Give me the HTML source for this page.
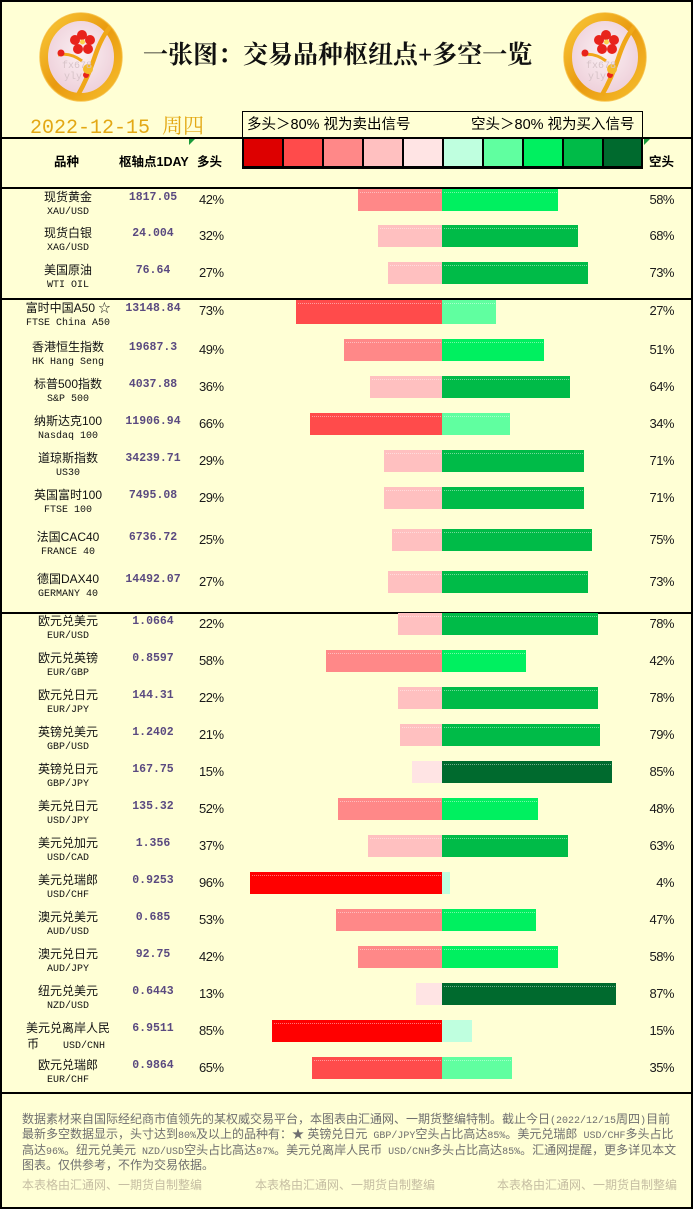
<!DOCTYPE html>
<html><head><meta charset="utf-8">
<style>
*{margin:0;padding:0;box-sizing:border-box}
html,body{width:693px;height:1209px;overflow:hidden}
body{background:#FFFFD5;position:relative;font-family:"Liberation Sans","Noto Sans CJK SC",sans-serif;color:#000}
.a{position:absolute}
.frame{left:0;top:0;width:693px;height:1209px;border:2px solid #000}
.hl{position:absolute;left:0;width:693px;height:2px;background:#000}
.title{left:143px;top:39px;font-family:"Liberation Serif","Noto Serif CJK SC",serif;font-weight:700;font-size:25px;line-height:34px;white-space:nowrap;color:#111}
.date{left:30px;top:112px;color:#E3A814;white-space:nowrap;line-height:26px}
.date .d{font-family:"Liberation Mono",monospace;font-size:20px;white-space:pre}
.date .w{font-family:"Noto Serif CJK SC",serif;font-size:21px}
.lgbox{left:242px;top:111px;width:401px;height:27px;border:1px solid #000;border-bottom:none}
.lgt{position:absolute;top:4px;font-size:14.5px;line-height:18px;white-space:nowrap;font-family:"Liberation Sans","Noto Sans CJK SC",sans-serif}
.cells{left:242px;top:138px;width:401px;height:31px;background:#000}
.cell{position:absolute;top:1px;width:38px;height:27px}
.hd{font-weight:700;font-size:12.5px;line-height:16px;white-space:nowrap;top:154px;font-family:"Liberation Sans","Noto Sans CJK SC",sans-serif}
.tri{width:0;height:0;border-top:6px solid #1a9a3a;border-right:6px solid transparent}
.r{position:absolute;left:0;width:693px;height:24px}
.n{position:absolute;left:0;width:136px;top:1px;text-align:center;font-size:12px;line-height:15px;white-space:nowrap;font-family:"Liberation Sans","Noto Sans CJK SC",sans-serif;color:#111}
.s{position:absolute;left:0;width:136px;top:17px;text-align:center;font-family:"Liberation Mono",monospace;font-size:10px;line-height:13px;white-space:pre;color:#111}
.p{position:absolute;left:105px;width:96px;top:2px;text-align:center;font-family:"Liberation Mono",monospace;font-weight:700;font-size:11.5px;line-height:13px;color:#5a4a80;white-space:nowrap}
.l{position:absolute;left:199px;top:3px;font-size:13px;line-height:16px;letter-spacing:-0.5px;color:#1a1a1a}
.rt{position:absolute;left:620px;width:54px;top:3px;text-align:right;font-size:13px;line-height:16px;letter-spacing:-0.5px;color:#1a1a1a}
.b{position:absolute;top:0;height:22px}
.b i{position:absolute;left:2px;right:1px;top:3px;height:0;border-top:1px dotted rgba(255,255,255,0.45)}
.ft{left:22px;top:1112px;font-size:12px;color:#6f6f6f;white-space:nowrap;font-family:"Liberation Sans","Noto Sans CJK SC",sans-serif}
.ft div{height:15.4px;line-height:15.4px;overflow:visible}
.m{font-family:"Liberation Mono",monospace;font-size:10px;line-height:10px}
.wm{top:1177px;font-size:12px;line-height:16px;color:#C6BEA2;white-space:nowrap;font-family:"Liberation Sans","Noto Sans CJK SC",sans-serif}
</style></head><body>

<!-- logos -->
<svg class="a" style="left:38px;top:11px" width="88" height="92" viewBox="0 0 88 92">
<defs>
<radialGradient id="gi1" cx="50%" cy="45%" r="60%"><stop offset="0" stop-color="#fbf0f3"/><stop offset="1" stop-color="#eccbd6"/></radialGradient>
<linearGradient id="gg1" x1="0" y1="0" x2="1" y2="1"><stop offset="0" stop-color="#f9c838"/><stop offset="0.5" stop-color="#e99a10"/><stop offset="1" stop-color="#f6bd2c"/></linearGradient>
</defs>
<ellipse cx="43" cy="46" rx="37" ry="40" fill="url(#gi1)" stroke="url(#gg1)" stroke-width="8"/>
<ellipse cx="43" cy="46" rx="41" ry="44" fill="none" stroke="#f3b228" stroke-width="1.5" opacity="0.7"/>
<path d="M40 84 C48 70 52 60 56 48 S64 26 72 16" stroke="#f0a818" stroke-width="4.5" fill="none"/>
<path d="M44 50 C36 44 28 42 20 44" stroke="#f0a818" stroke-width="3" fill="none"/>
<g fill="#e8231c">
<circle cx="44" cy="24" r="5"/><circle cx="52" cy="29" r="5"/><circle cx="50" cy="38" r="5"/><circle cx="40" cy="38" r="5"/><circle cx="37" cy="29" r="5"/>
<circle cx="23" cy="42" r="3.5"/><circle cx="48" cy="64" r="3"/>
</g>
<circle cx="44.5" cy="31" r="2.5" fill="#fbd24a"/>
<circle cx="50" cy="58" r="5" fill="#f4bb2a"/>
<text x="24" y="57" font-family="Liberation Mono,monospace" font-size="10" fill="#d7c3c8">fx678</text>
<text x="26" y="68" font-family="Liberation Mono,monospace" font-size="10" fill="#d7c3c8">yly</text>
</svg>
<svg class="a" style="left:562px;top:11px" width="88" height="92" viewBox="0 0 88 92">
<defs>
<radialGradient id="gi2" cx="50%" cy="45%" r="60%"><stop offset="0" stop-color="#fbf0f3"/><stop offset="1" stop-color="#eccbd6"/></radialGradient>
<linearGradient id="gg2" x1="0" y1="0" x2="1" y2="1"><stop offset="0" stop-color="#f9c838"/><stop offset="0.5" stop-color="#e99a10"/><stop offset="1" stop-color="#f6bd2c"/></linearGradient>
</defs>
<ellipse cx="43" cy="46" rx="37" ry="40" fill="url(#gi2)" stroke="url(#gg2)" stroke-width="8"/>
<ellipse cx="43" cy="46" rx="41" ry="44" fill="none" stroke="#f3b228" stroke-width="1.5" opacity="0.7"/>
<path d="M40 84 C48 70 52 60 56 48 S64 26 72 16" stroke="#f0a818" stroke-width="4.5" fill="none"/>
<path d="M44 50 C36 44 28 42 20 44" stroke="#f0a818" stroke-width="3" fill="none"/>
<g fill="#e8231c">
<circle cx="44" cy="24" r="5"/><circle cx="52" cy="29" r="5"/><circle cx="50" cy="38" r="5"/><circle cx="40" cy="38" r="5"/><circle cx="37" cy="29" r="5"/>
<circle cx="23" cy="42" r="3.5"/><circle cx="48" cy="64" r="3"/>
</g>
<circle cx="44.5" cy="31" r="2.5" fill="#fbd24a"/>
<circle cx="50" cy="58" r="5" fill="#f4bb2a"/>
<text x="24" y="57" font-family="Liberation Mono,monospace" font-size="10" fill="#d7c3c8">fx678</text>
<text x="26" y="68" font-family="Liberation Mono,monospace" font-size="10" fill="#d7c3c8">yly</text>
</svg>

<div class="a title">一张图：交易品种枢纽点+多空一览</div>
<div class="a date"><span class="d">2022-12-15 </span><span class="w">周四</span></div>

<div class="a lgbox">
<div class="lgt" style="left:4px">多头＞80% 视为卖出信号</div>
<div class="lgt" style="left:228px">空头＞80% 视为买入信号</div>
</div>
<div class="a cells">
<div class="cell" style="left:2px;background:#DD0000"></div>
<div class="cell" style="left:42px;background:#FF4B4B"></div>
<div class="cell" style="left:82px;background:#FF8888"></div>
<div class="cell" style="left:122px;background:#FFC0C0"></div>
<div class="cell" style="left:162px;background:#FFE4E4"></div>
<div class="cell" style="left:202px;background:#BFFFDF"></div>
<div class="cell" style="left:242px;background:#60FFA0"></div>
<div class="cell" style="left:282px;background:#00F060"></div>
<div class="cell" style="left:322px;background:#00BB48"></div>
<div class="cell" style="left:362px;width:37px;background:#006A2E"></div>
</div>

<div class="a hd" style="left:54px">品种</div>
<div class="a hd" style="left:119px">枢轴点1DAY</div>
<div class="a hd" style="left:197px">多头</div>
<div class="a hd" style="left:649px">空头</div>
<div class="a tri" style="left:189px;top:139px"></div>
<div class="a tri" style="left:644px;top:139px"></div>

<div class="hl" style="top:137px"></div>
<div class="hl" style="top:187px"></div>
<div class="hl" style="top:298px"></div>
<div class="hl" style="top:612px"></div>
<div class="hl" style="top:1092px"></div>

<!-- rows -->
<div class="r" style="top:189px"><div class="n">现货黄金</div><div class="s">XAU/USD</div><div class="p">1817.05</div><div class="l">42%</div><div class="b" style="left:358px;width:84px;background:#FF8888"><i></i></div><div class="b" style="left:442px;width:116px;background:#00F060"><i></i></div><div class="rt">58%</div></div>
<div class="r" style="top:225px"><div class="n">现货白银</div><div class="s">XAG/USD</div><div class="p">24.004</div><div class="l">32%</div><div class="b" style="left:378px;width:64px;background:#FFC0C0"><i></i></div><div class="b" style="left:442px;width:136px;background:#00BB48"><i></i></div><div class="rt">68%</div></div>
<div class="r" style="top:262px"><div class="n">美国原油</div><div class="s">WTI OIL</div><div class="p">76.64</div><div class="l">27%</div><div class="b" style="left:388px;width:54px;background:#FFC0C0"><i></i></div><div class="b" style="left:442px;width:146px;background:#00BB48"><i></i></div><div class="rt">73%</div></div>
<div class="r" style="top:300px"><div class="n">富时中国A50 ☆</div><div class="s">FTSE China A50</div><div class="p">13148.84</div><div class="l">73%</div><div class="b" style="left:296px;width:146px;height:24px;background:#FF4B4B"><i></i></div><div class="b" style="left:442px;width:54px;height:24px;background:#60FFA0"><i></i></div><div class="rt">27%</div></div>
<div class="r" style="top:339px"><div class="n">香港恒生指数</div><div class="s">HK Hang Seng</div><div class="p">19687.3</div><div class="l">49%</div><div class="b" style="left:344px;width:98px;background:#FF8888"><i></i></div><div class="b" style="left:442px;width:102px;background:#00F060"><i></i></div><div class="rt">51%</div></div>
<div class="r" style="top:376px"><div class="n">标普500指数</div><div class="s">S&amp;P 500</div><div class="p">4037.88</div><div class="l">36%</div><div class="b" style="left:370px;width:72px;background:#FFC0C0"><i></i></div><div class="b" style="left:442px;width:128px;background:#00BB48"><i></i></div><div class="rt">64%</div></div>
<div class="r" style="top:413px"><div class="n">纳斯达克100</div><div class="s">Nasdaq 100</div><div class="p">11906.94</div><div class="l">66%</div><div class="b" style="left:310px;width:132px;background:#FF4B4B"><i></i></div><div class="b" style="left:442px;width:68px;background:#60FFA0"><i></i></div><div class="rt">34%</div></div>
<div class="r" style="top:450px"><div class="n">道琼斯指数</div><div class="s">US30</div><div class="p">34239.71</div><div class="l">29%</div><div class="b" style="left:384px;width:58px;background:#FFC0C0"><i></i></div><div class="b" style="left:442px;width:142px;background:#00BB48"><i></i></div><div class="rt">71%</div></div>
<div class="r" style="top:487px"><div class="n">英国富时100</div><div class="s">FTSE 100</div><div class="p">7495.08</div><div class="l">29%</div><div class="b" style="left:384px;width:58px;background:#FFC0C0"><i></i></div><div class="b" style="left:442px;width:142px;background:#00BB48"><i></i></div><div class="rt">71%</div></div>
<div class="r" style="top:529px"><div class="n">法国CAC40</div><div class="s">FRANCE 40</div><div class="p">6736.72</div><div class="l">25%</div><div class="b" style="left:392px;width:50px;background:#FFC0C0"><i></i></div><div class="b" style="left:442px;width:150px;background:#00BB48"><i></i></div><div class="rt">75%</div></div>
<div class="r" style="top:571px"><div class="n">德国DAX40</div><div class="s">GERMANY 40</div><div class="p">14492.07</div><div class="l">27%</div><div class="b" style="left:388px;width:54px;background:#FFC0C0"><i></i></div><div class="b" style="left:442px;width:146px;background:#00BB48"><i></i></div><div class="rt">73%</div></div>
<div class="r" style="top:613px"><div class="n">欧元兑美元</div><div class="s">EUR/USD</div><div class="p">1.0664</div><div class="l">22%</div><div class="b" style="left:398px;width:44px;background:#FFC0C0"><i></i></div><div class="b" style="left:442px;width:156px;background:#00BB48"><i></i></div><div class="rt">78%</div></div>
<div class="r" style="top:650px"><div class="n">欧元兑英镑</div><div class="s">EUR/GBP</div><div class="p">0.8597</div><div class="l">58%</div><div class="b" style="left:326px;width:116px;background:#FF8888"><i></i></div><div class="b" style="left:442px;width:84px;background:#00F060"><i></i></div><div class="rt">42%</div></div>
<div class="r" style="top:687px"><div class="n">欧元兑日元</div><div class="s">EUR/JPY</div><div class="p">144.31</div><div class="l">22%</div><div class="b" style="left:398px;width:44px;background:#FFC0C0"><i></i></div><div class="b" style="left:442px;width:156px;background:#00BB48"><i></i></div><div class="rt">78%</div></div>
<div class="r" style="top:724px"><div class="n">英镑兑美元</div><div class="s">GBP/USD</div><div class="p">1.2402</div><div class="l">21%</div><div class="b" style="left:400px;width:42px;background:#FFC0C0"><i></i></div><div class="b" style="left:442px;width:158px;background:#00BB48"><i></i></div><div class="rt">79%</div></div>
<div class="r" style="top:761px"><div class="n">英镑兑日元</div><div class="s">GBP/JPY</div><div class="p">167.75</div><div class="l">15%</div><div class="b" style="left:412px;width:30px;background:#FFE4E4"></div><div class="b" style="left:442px;width:170px;background:#006A2E"><i></i></div><div class="rt">85%</div></div>
<div class="r" style="top:798px"><div class="n">美元兑日元</div><div class="s">USD/JPY</div><div class="p">135.32</div><div class="l">52%</div><div class="b" style="left:338px;width:104px;background:#FF8888"><i></i></div><div class="b" style="left:442px;width:96px;background:#00F060"><i></i></div><div class="rt">48%</div></div>
<div class="r" style="top:835px"><div class="n">美元兑加元</div><div class="s">USD/CAD</div><div class="p">1.356</div><div class="l">37%</div><div class="b" style="left:368px;width:74px;background:#FFC0C0"><i></i></div><div class="b" style="left:442px;width:126px;background:#00BB48"><i></i></div><div class="rt">63%</div></div>
<div class="r" style="top:872px"><div class="n">美元兑瑞郎</div><div class="s">USD/CHF</div><div class="p">0.9253</div><div class="l">96%</div><div class="b" style="left:250px;width:192px;background:#FF0000"><i></i></div><div class="b" style="left:442px;width:8px;background:#BFFFDF"></div><div class="rt">4%</div></div>
<div class="r" style="top:909px"><div class="n">澳元兑美元</div><div class="s">AUD/USD</div><div class="p">0.685</div><div class="l">53%</div><div class="b" style="left:336px;width:106px;background:#FF8888"><i></i></div><div class="b" style="left:442px;width:94px;background:#00F060"><i></i></div><div class="rt">47%</div></div>
<div class="r" style="top:946px"><div class="n">澳元兑日元</div><div class="s">AUD/JPY</div><div class="p">92.75</div><div class="l">42%</div><div class="b" style="left:358px;width:84px;background:#FF8888"><i></i></div><div class="b" style="left:442px;width:116px;background:#00F060"><i></i></div><div class="rt">58%</div></div>
<div class="r" style="top:983px"><div class="n">纽元兑美元</div><div class="s">NZD/USD</div><div class="p">0.6443</div><div class="l">13%</div><div class="b" style="left:416px;width:26px;background:#FFE4E4"></div><div class="b" style="left:442px;width:174px;background:#006A2E"><i></i></div><div class="rt">87%</div></div>
<div class="r" style="top:1020px"><div class="n">美元兑离岸人民</div><div class="s" style="text-align:left;left:27px"><span style="font-family:'Noto Sans CJK SC',sans-serif;font-size:12px">币</span>    USD/CNH</div><div class="p">6.9511</div><div class="l">85%</div><div class="b" style="left:272px;width:170px;background:#FF0000"><i></i></div><div class="b" style="left:442px;width:30px;background:#BFFFDF"></div><div class="rt">15%</div></div>
<div class="r" style="top:1057px"><div class="n">欧元兑瑞郎</div><div class="s">EUR/CHF</div><div class="p">0.9864</div><div class="l">65%</div><div class="b" style="left:312px;width:130px;background:#FF4B4B"><i></i></div><div class="b" style="left:442px;width:70px;background:#60FFA0"><i></i></div><div class="rt">35%</div></div>

<div class="a ft">
<div>数据素材来自国际经纪商市值领先的某权威交易平台，本图表由汇通网、一期货整编特制。截止今日<span class="m">(2022/12/15</span>周四<span class="m">)</span>目前</div>
<div>最新多空数据显示，头寸达到<span class="m">80%</span>及以上的品种有：★ 英镑兑日元<span class="m"> GBP/JPY</span>空头占比高达<span class="m">85%</span>。美元兑瑞郎<span class="m"> USD/CHF</span>多头占比</div>
<div>高达<span class="m">96%</span>。纽元兑美元<span class="m"> NZD/USD</span>空头占比高达<span class="m">87%</span>。美元兑离岸人民币<span class="m"> USD/CNH</span>多头占比高达<span class="m">85%</span>。汇通网提醒，更多详见本文</div>
<div>图表。仅供参考，不作为交易依据。</div>
</div>

<div class="a wm" style="left:22px">本表格由汇通网、一期货自制整编</div>
<div class="a wm" style="left:255px">本表格由汇通网、一期货自制整编</div>
<div class="a wm" style="left:497px">本表格由汇通网、一期货自制整编</div>

<div class="a frame"></div>
</body></html>
